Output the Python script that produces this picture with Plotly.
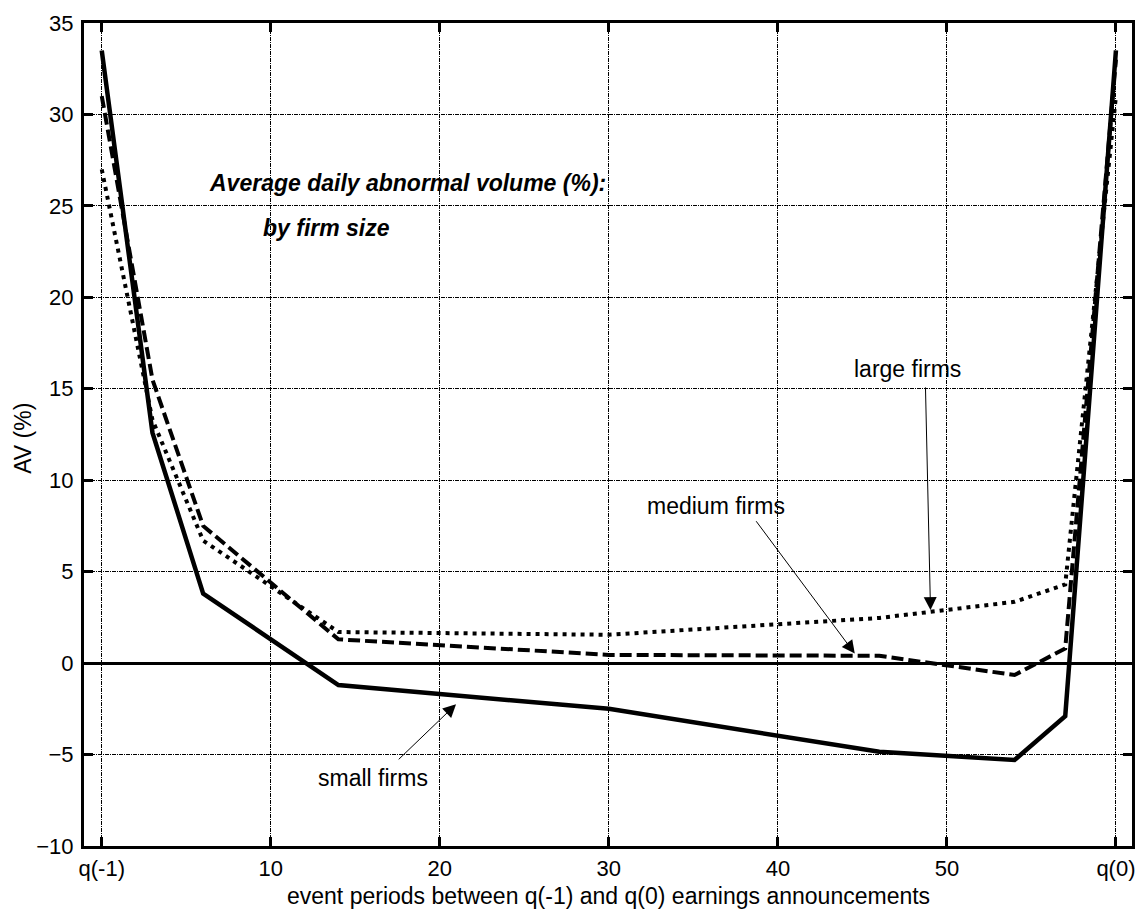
import plotly.graph_objects as go

# Event periods between q(-1) and q(0)
periods = [0, 3, 6, 14, 30, 46, 54, 57, 60]
small_firms = [33.5, 12.6, 3.8, -1.2, -2.5, -4.85, -5.3, -2.9, 33.5]
medium_firms = [31.0, 15.5, 7.5, 1.3, 0.45, 0.4, -0.65, 0.8, 33.0]
large_firms = [27.0, 13.3, 6.7, 1.7, 1.55, 2.47, 3.35, 4.3, 31.0]

x_tickvals = [0, 10, 20, 30, 40, 50, 60]
x_ticktext = ["q(-1)", "10", "20", "30", "40", "50", "q(0)"]
y_tickvals = [-10, -5, 0, 5, 10, 15, 20, 25, 30, 35]

FONT = "Liberation Sans, Arial, sans-serif"

fig = go.Figure()
fig.add_trace(go.Scatter(x=periods, y=small_firms, mode="lines", name="small firms",
                         line=dict(color="black", width=4.5)))
fig.add_trace(go.Scatter(x=periods, y=medium_firms, mode="lines", name="medium firms",
                         line=dict(color="black", width=4, dash="12px,5px")))
fig.add_trace(go.Scatter(x=periods, y=large_firms, mode="lines", name="large firms",
                         line=dict(color="black", width=4, dash="4px,5px")))

axis_common = dict(
    showline=True, linecolor="black", linewidth=3, mirror="ticks",
    ticks="inside", ticklen=9, tickwidth=3, tickcolor="black",
    showgrid=True, gridcolor="black", gridwidth=1.2, griddash="4px,1px,1px,1px",
    tickfont=dict(family=FONT, size=22, color="black"),
)

fig.update_xaxes(range=[-1.05, 60.95], tickvals=x_tickvals, ticktext=x_ticktext,
                 zeroline=False, ticklabelstandoff=1, **axis_common)
fig.update_yaxes(range=[-10, 35], tickvals=y_tickvals, zeroline=True,
                 zerolinecolor="black", zerolinewidth=2.5, ticklabelstandoff=3,
                 **axis_common)

ann_font = dict(family=FONT, size=23, color="black")
annotations = [
    dict(text="event periods between q(-1) and q(0) earnings announcements",
         xref="paper", yref="paper", x=0.5005, y=-0.061, xanchor="center", yanchor="middle",
         showarrow=False, font=ann_font),
    dict(text="AV (%)", xref="paper", yref="paper", x=-0.059, y=0.495,
         xanchor="center", yanchor="middle", textangle=-90, showarrow=False, font=ann_font),
    dict(text="<b><i>Average daily abnormal volume (%):</i></b>", x=6.21, y=26.27,
         xanchor="left", yanchor="middle", showarrow=False, font=ann_font),
    dict(text="<b><i>by firm size</i></b>", x=9.45, y=23.78,
         xanchor="left", yanchor="middle", showarrow=False, font=ann_font),
    dict(text="large firms", x=47.68, y=16.08, showarrow=False, font=ann_font),
    dict(text="medium firms", x=36.35, y=8.6, showarrow=False, font=ann_font),
    dict(text="small firms", x=16.06, y=-6.26, showarrow=False, font=ann_font),
]
arrows = [
    ((48.73, 15.16), (49.03, 2.9)),
    ((38.65, 7.84), (44.55, 0.52)),
    ((17.48, -5.34), (20.96, -2.25)),
]
for (tx, ty), (hx, hy) in arrows:
    annotations.append(dict(text="", x=hx, y=hy, ax=tx, ay=ty, axref="x", ayref="y",
                            showarrow=True, arrowhead=2, arrowsize=2.6, arrowwidth=1,
                            arrowcolor="black", standoff=0, startstandoff=0))

fig.update_layout(
    width=1146, height=913,
    margin=dict(l=84, r=11, t=16, b=67),
    paper_bgcolor="white", plot_bgcolor="white",
    showlegend=False,
    annotations=annotations,
    font=dict(family=FONT, color="black"),
)

fig.write_html("out.html")
